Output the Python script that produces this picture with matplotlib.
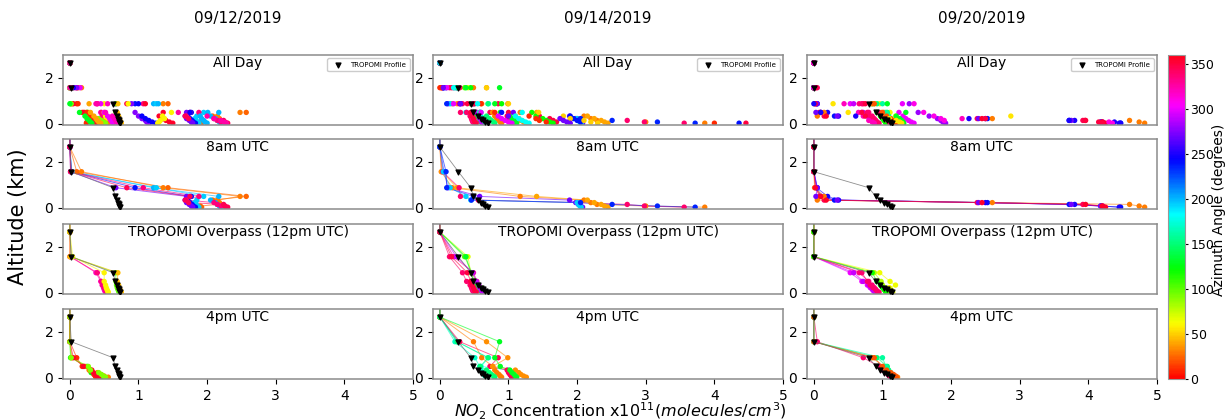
import numpy as np
import matplotlib
matplotlib.use('Agg')
import matplotlib.pyplot as plt

# altitude levels of the retrieved profiles (km), top level is off the chart
alt_km = [4.0, 2.65, 1.57, 0.87, 0.49, 0.33, 0.22, 0.14, 0.07, 0.02]

dates = ['09/12/2019', '09/14/2019', '09/20/2019']
row_titles = ['All Day', '8am UTC', 'TROPOMI Overpass (12pm UTC)', '4pm UTC']

# TROPOMI profile for each date
tropomi_0912 = [0, 0, 0.02, 0.63, 0.66, 0.68, 0.70, 0.71, 0.72, 0.73]
tropomi_0914 = [0, 0, 0.27, 0.45, 0.49, 0.56, 0.60, 0.63, 0.66, 0.70]
tropomi_0920 = [0, 0, 0.00, 0.80, 0.90, 0.97, 1.02, 1.07, 1.11, 1.14]

# ---- 09/12/2019 ----
az_0912_8am = [25, 30, 200, 195, 240, 270, 335, 345]
no2_0912_8am = [
    [0, 0, 0.10, 1.43, 2.57, 2.08, 2.12, 2.15, 1.90, 1.92],
    [0, 0, 0.17, 1.36, 2.48, 2.15, 2.18, 2.20, 2.22, 2.25],
    [0, 0, 0.03, 1.22, 2.17, 2.05, 2.12, 2.15, 2.18, 2.20],
    [0, 0, 0.02, 1.26, 1.95, 1.85, 1.82, 1.84, 1.86, 1.88],
    [0, 0, 0.02, 0.95, 1.77, 1.72, 1.75, 1.78, 1.80, 1.83],
    [0, 0, 0.01, 0.67, 1.70, 1.68, 1.70, 1.74, 1.77, 1.79],
    [0, 0, 0.02, 1.07, 1.88, 1.70, 2.10, 2.15, 2.20, 2.28],
    [0, 0, 0.01, 0.83, 1.75, 1.68, 1.73, 2.24, 2.26, 2.30],
]
az_0912_12pm = [320, 335, 60, 100, 45]
no2_0912_12pm = [
    [0, 0, 0.02, 0.38, 0.45, 0.47, 0.49, 0.50, 0.51, 0.52],
    [0, 0, 0.00, 0.40, 0.46, 0.48, 0.50, 0.52, 0.53, 0.54],
    [0, 0, 0.04, 0.50, 0.50, 0.52, 0.53, 0.54, 0.55, 0.56],
    [0, 0, 0.02, 0.67, 0.67, 0.68, 0.69, 0.70, 0.71, 0.72],
    [0, 0, 0.00, 0.70, 0.69, 0.71, 0.72, 0.73, 0.74, 0.75],
]
az_0912_4pm = [10, 120, 30, 355, 90]
no2_0912_4pm = [
    [0, 0, 0.00, 0.10, 0.18, 0.30, 0.33, 0.35, 0.37, 0.38],
    [0, 0, 0.00, 0.01, 0.25, 0.29, 0.31, 0.42, 0.44, 0.46],
    [0, 0, 0.00, 0.03, 0.22, 0.28, 0.40, 0.45, 0.50, 0.56],
    [0, 0, 0.00, 0.05, 0.20, 0.32, 0.34, 0.37, 0.40, 0.42],
    [0, 0, 0.00, 0.02, 0.27, 0.30, 0.42, 0.46, 0.49, 0.52],
]
az_0912_other = [10, 40, 130, 300, 320, 275, 245, 355, 200, 60, 325]
no2_0912_other = [
    [0, 0, 0.12, 0.12, 0.25, 0.30, 0.28, 0.26, 0.25, 0.24],
    [0, 0, 0.05, 0.28, 0.30, 0.35, 0.38, 0.40, 0.42, 0.45],
    [0, 0, 0.00, 0.00, 0.14, 0.22, 0.25, 0.28, 0.30, 0.32],
    [0, 0, 0.15, 0.45, 0.50, 0.55, 0.58, 0.60, 0.62, 0.63],
    [0, 0, 0.08, 0.55, 0.52, 0.62, 0.65, 0.67, 0.68, 0.70],
    [0, 0, 0.10, 0.90, 0.95, 1.00, 1.05, 1.10, 1.12, 1.15],
    [0, 0, 0.05, 1.00, 1.75, 1.05, 1.10, 1.15, 1.20, 1.25],
    [0, 0, 0.02, 1.10, 1.36, 1.30, 1.35, 1.40, 1.45, 1.50],
    [0, 0, 0.00, 1.29, 2.01, 1.90, 1.92, 1.95, 1.97, 2.00],
    [0, 0, 0.00, 0.85, 1.48, 1.35, 1.38, 1.32, 1.30, 1.28],
    [0, 0, 0.00, 0.40, 1.58, 2.00, 2.10, 2.20, 2.25, 2.28],
]

# ---- 09/14/2019 ----
az_0914_8am = [30, 40, 340, 270, 195, 235]
no2_0914_8am = [
    [0, 0, 0.02, 0.18, 1.17, 2.10, 2.20, 2.29, 3.00, 3.86],
    [0, 0, 0.03, 0.25, 1.41, 2.15, 2.25, 2.35, 2.40, 2.45],
    [0, 0, 0.04, 0.28, 0.30, 0.56, 2.00, 2.73, 2.98, 3.56],
    [0, 0, 0.06, 0.12, 0.58, 1.89, 1.98, 2.02, 2.05, 2.08],
    [0, 0, 0.05, 0.15, 0.38, 0.45, 2.00, 2.02, 2.04, 2.06],
    [0, 0, 0.09, 0.10, 0.49, 0.46, 2.05, 2.51, 3.17, 3.72],
]
az_0914_12pm = [340, 330, 70, 100, 130, 290, 350]
no2_0914_12pm = [
    [0, 0, 0.14, 0.33, 0.39, 0.44, 0.46, 0.47, 0.48, 0.50],
    [0, 0, 0.20, 0.49, 0.54, 0.50, 0.48, 0.49, 0.50, 0.52],
    [0, 0, 0.41, 0.45, 0.50, 0.55, 0.58, 0.60, 0.62, 0.64],
    [0, 0, 0.36, 0.47, 0.52, 0.56, 0.60, 0.62, 0.64, 0.66],
    [0, 0, 0.38, 0.45, 0.50, 0.54, 0.57, 0.59, 0.60, 0.62],
    [0, 0, 0.24, 0.48, 0.53, 0.57, 0.58, 0.60, 0.61, 0.63],
    [0, 0, 0.17, 0.40, 0.45, 0.47, 0.49, 0.50, 0.51, 0.53],
]
az_0914_4pm = [170, 180, 345, 30, 35, 130, 150]
no2_0914_4pm = [
    [0, 0, 0.22, 0.51, 0.58, 0.60, 0.62, 0.64, 0.66, 0.68],
    [0, 0, 0.25, 0.71, 0.60, 1.00, 1.02, 1.03, 1.04, 1.05],
    [0, 0, 0.29, 0.85, 0.73, 0.98, 1.00, 1.02, 1.04, 1.05],
    [0, 0, 0.49, 0.61, 0.77, 0.80, 0.83, 0.86, 0.88, 0.90],
    [0, 0, 0.68, 0.99, 0.77, 1.10, 1.15, 1.18, 1.22, 1.26],
    [0, 0, 0.87, 0.80, 0.88, 1.02, 1.05, 1.08, 1.10, 1.12],
    [0, 0, 0.25, 0.70, 0.59, 0.68, 0.72, 0.75, 0.78, 0.80],
]
az_0914_other = [350, 240, 120, 10, 50, 300, 270, 180]
no2_0914_other = [
    [0, 0, 0.03, 0.50, 1.00, 1.45, 1.60, 1.65, 1.70, 4.46],
    [0, 0, 0.05, 0.30, 0.90, 1.90, 1.95, 2.00, 2.05, 4.36],
    [0, 0, 0.45, 0.90, 1.34, 1.40, 1.50, 1.55, 1.60, 1.65],
    [0, 0, 0.00, 0.60, 0.80, 1.30, 1.40, 1.45, 1.55, 4.00],
    [0, 0, 0.68, 1.00, 1.44, 1.80, 1.90, 2.10, 2.20, 2.30],
    [0, 0, 0.10, 0.20, 0.60, 0.85, 0.90, 0.95, 1.00, 1.05],
    [0, 0, 0.05, 0.30, 1.07, 1.00, 1.75, 1.80, 1.85, 1.90],
    [0, 0, 0.20, 0.55, 1.20, 1.10, 1.15, 1.20, 1.25, 1.30],
]

# ---- 09/20/2019 ----
az_0920_8am = [240, 250, 345, 30, 270, 355]
no2_0920_8am = [
    [0, 0, 0.00, 0.05, 0.10, 0.30, 2.53, 3.72, 4.18, 4.47],
    [0, 0, 0.00, 0.04, 0.20, 0.36, 2.50, 3.80, 4.20, 4.45],
    [0, 0, 0.00, 0.03, 0.08, 0.15, 2.38, 3.92, 4.21, 4.23],
    [0, 0, 0.00, 0.01, 0.15, 0.05, 2.60, 4.60, 4.74, 4.82],
    [0, 0, 0.00, 0.05, 0.03, 0.34, 2.40, 3.75, 4.18, 4.22],
    [0, 0, 0.00, 0.02, 0.10, 0.18, 2.45, 3.96, 4.20, 4.25],
]
az_0920_12pm = [300, 290, 335, 340, 80, 65, 120]
no2_0920_12pm = [
    [0, 0, 0.00, 0.53, 0.70, 0.78, 0.82, 0.85, 0.87, 0.90],
    [0, 0, 0.00, 0.58, 0.72, 0.80, 0.84, 0.86, 0.88, 0.90],
    [0, 0, 0.00, 0.66, 0.80, 0.85, 0.88, 0.90, 0.92, 0.93],
    [0, 0, 0.00, 0.70, 0.78, 0.82, 0.86, 0.90, 0.92, 0.95],
    [0, 0, 0.00, 0.88, 0.98, 1.00, 1.02, 1.04, 1.05, 1.07],
    [0, 0, 0.00, 0.96, 1.11, 1.19, 1.10, 1.12, 1.13, 1.15],
    [0, 0, 0.00, 0.85, 0.92, 0.97, 1.00, 1.02, 1.04, 1.05],
]
az_0920_4pm = [340, 30, 150, 160, 20]
no2_0920_4pm = [
    [0, 0, 0.05, 0.72, 0.95, 1.00, 1.05, 1.08, 1.10, 1.12],
    [0, 0, 0.00, 0.85, 1.02, 1.05, 1.10, 1.14, 1.18, 1.22],
    [0, 0, 0.00, 0.92, 1.07, 1.09, 1.12, 1.14, 1.15, 1.16],
    [0, 0, 0.00, 1.00, 1.05, 1.08, 1.10, 1.12, 1.14, 1.16],
    [0, 0, 0.00, 0.88, 1.00, 1.06, 1.12, 1.16, 1.19, 1.20],
]
az_0920_other = [280, 300, 130, 55, 320, 250, 350, 310]
no2_0920_other = [
    [0, 0, 0.00, 1.39, 1.52, 1.68, 1.80, 1.85, 1.88, 1.92],
    [0, 0, 0.00, 1.29, 1.24, 1.30, 1.34, 1.38, 1.42, 1.46],
    [0, 0, 0.00, 1.07, 1.34, 1.20, 1.25, 1.28, 1.30, 1.31],
    [0, 0, 0.00, 0.28, 0.50, 2.87, 1.10, 1.20, 1.25, 1.28],
    [0, 0, 0.00, 0.44, 0.65, 0.72, 2.16, 0.80, 0.85, 0.88],
    [0, 0, 0.00, 0.00, 0.10, 0.61, 2.26, 3.72, 4.38, 4.47],
    [0, 0, 0.03, 0.75, 0.70, 0.75, 2.50, 3.95, 4.15, 4.20],
    [0, 0, 0.00, 1.46, 1.60, 1.75, 1.85, 1.90, 4.30, 4.35],
]

tropomi = [tropomi_0912, tropomi_0914, tropomi_0920]
slots = [
    [(az_0912_8am, no2_0912_8am), (az_0912_12pm, no2_0912_12pm), (az_0912_4pm, no2_0912_4pm)],
    [(az_0914_8am, no2_0914_8am), (az_0914_12pm, no2_0914_12pm), (az_0914_4pm, no2_0914_4pm)],
    [(az_0920_8am, no2_0920_8am), (az_0920_12pm, no2_0920_12pm), (az_0920_4pm, no2_0920_4pm)],
]
others = [(az_0912_other, no2_0912_other), (az_0914_other, no2_0914_other),
          (az_0920_other, no2_0920_other)]

cmap = plt.get_cmap('hsv')
norm = plt.Normalize(0, 360)
alt = np.array(alt_km)

fig = plt.figure(figsize=(12.26, 4.2), dpi=100)
W, H = 1226.0, 420.0
lefts = [63, 433, 807]
tops = [55, 139, 224, 309]
aw, ah = 350, 70

for c in range(3):
    for r in range(4):
        ax = fig.add_axes([lefts[c] / W, 1 - (tops[r] + ah) / H, aw / W, ah / H])
        ax.set_xlim(-0.1, 5)
        ax.set_ylim(-0.06, 3)
        ax.set_yticks([0, 2])
        ax.tick_params(labelsize=10)
        for s in ax.spines.values():
            s.set_color('0.55')
            s.set_linewidth(1.1)
        if r < 3:
            ax.tick_params(bottom=False, labelbottom=False)
        else:
            ax.set_xticks([0, 1, 2, 3, 4, 5])

        if r == 0:
            # all profiles of the day, points only
            groups = slots[c] + [others[c]]
            for az_list, prof_list in groups:
                for az, prof in zip(az_list, prof_list):
                    ax.scatter(prof, alt, c=[az] * len(prof), cmap=cmap, norm=norm,
                               s=15, edgecolors='none', zorder=2)
            ax.scatter(tropomi[c], alt, marker='v', color='k', s=12, zorder=3,
                       label='TROPOMI Profile')
            ax.legend(loc='upper right', fontsize=5, handletextpad=0.8,
                      borderpad=0.5, framealpha=1)
        else:
            az_list, prof_list = slots[c][r - 1]
            for az, prof in zip(az_list, prof_list):
                ax.plot(prof, alt, color=cmap(norm(az)), lw=0.7, alpha=0.6, zorder=1)
                ax.scatter(prof, alt, c=[az] * len(prof), cmap=cmap, norm=norm,
                           s=15, edgecolors='none', zorder=2)
            ax.plot(tropomi[c], alt, color='0.45', lw=0.6, alpha=0.8, zorder=3)
            ax.scatter(tropomi[c], alt, marker='v', color='k', s=12, zorder=4)

        ax.text(0.5, 0.985, row_titles[r], transform=ax.transAxes, ha='center',
                va='top', fontsize=10)

    fig.text((lefts[c] + aw / 2) / W, 1 - 18 / H, dates[c], ha='center',
             va='center', fontsize=11)

fig.text(18 / W, 1 - 217 / H, 'Altitude (km)', rotation=90, ha='center',
         va='center', fontsize=15)
fig.text(620 / W, 1 - 411 / H,
         r'$NO_2$ Concentration x$10^{11}$($molecules/cm^3$)',
         ha='center', va='center', fontsize=11.5)

cax = fig.add_axes([1168 / W, 1 - 379 / H, 17 / W, 324 / H])
sm = plt.cm.ScalarMappable(cmap=cmap, norm=norm)
cb = fig.colorbar(sm, cax=cax, ticks=[0, 50, 100, 150, 200, 250, 300, 350])
cb.ax.tick_params(labelsize=9, length=2.5, pad=1.5)
cb.outline.set_edgecolor('0.6')
fig.text(1219 / W, 1 - 210 / H, 'Azimuth Angle (degrees)', rotation=90,
         ha='center', va='center', fontsize=10)

fig.savefig('out.png', dpi=100)
